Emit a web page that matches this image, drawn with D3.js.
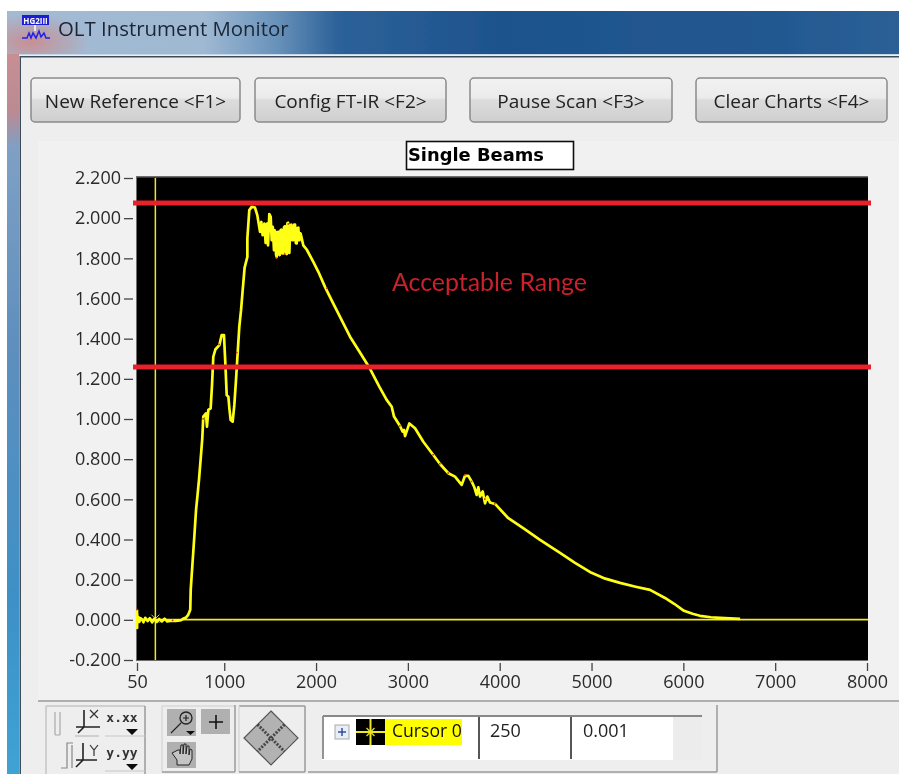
<!DOCTYPE html>
<html><head><meta charset="utf-8">
<script src="https://cdn.jsdelivr.net/npm/d3@7"></script>
<style>
html,body{margin:0;padding:0;background:#fff;overflow:hidden}
svg{display:block}
text{font-family:"Open Sans","Noto Sans",sans-serif;fill:#222}
</style></head><body>
<svg id="c" width="899" height="774"></svg>
<script>
const windowTitle = "OLT Instrument Monitor";
const buttonLabels = ["New Reference <F1>","Config FT-IR <F2>","Pause Scan <F3>","Clear Charts <F4>"];
const chartTitle = "Single Beams";
const rangeLabel = "Acceptable Range";
const limitValues = [2.075, 1.259];
const xTicks = [50,1000,2000,3000,4000,5000,6000,7000,8000];
const yTicks = [-0.2,0,0.2,0.4,0.6,0.8,1.0,1.2,1.4,1.6,1.8,2.0,2.2];
const cursorX = 250;
const cursorY = 0.001;
const cursorName = "Cursor 0";

const wavenumber = [50,51,52,55,60,68,76,90,105,120,140,165,190,215,240,265,290,320,350,380,410,440,470,500,530,551,585,608,630,635,657,675,693,710,725,745,761,772,801,812,827,852,867,881,903,947,972,997,1012,1027,1045,1056,1070,1092,1110,1128,1146,1164,1183,1201,1222,1252,1252,1273,1299,1335,1360,1390,1404,1418,1437,1451,1466,1477,1491,1506,1517,1528,1542,1549,1557,1564,1571,1580,1589,1596,1604,1613,1622,1631,1640,1651,1662,1671,1680,1688,1695,1702,1709,1720,1731,1742,1753,1762,1771,1780,1789,1798,1807,1813,1818,1825,1832,1861,1898,1970,2025,2097,2188,2279,2370,2480,2588,2690,2769,2824,2849,2914,2943,2958,2969,3016,3078,3168,3277,3350,3441,3513,3586,3622,3659,3695,3724,3749,3767,3786,3815,3840,3865,3894,3949,4094,4260,4439,4657,4820,5000,5150,5310,5480,5637,5800,5900,6007,6100,6181,6300,6400,6618];
const intensity = [0.05,-0.04,0.03,0.01,-0.012,0.012,-0.01,0.008,0.002,-0.012,0.01,-0.006,0.008,-0.012,0.006,-0.01,0.004,-0.008,0.006,-0.008,-0.006,-0.004,-0.006,-0.004,-0.002,0.005,0.012,0.025,0.05,0.149,0.299,0.42,0.547,0.625,0.697,0.81,0.904,1.012,1.028,0.962,1.045,1.053,1.169,1.31,1.346,1.368,1.418,1.418,1.277,1.119,1.111,1.053,0.995,0.987,1.07,1.194,1.327,1.459,1.542,1.642,1.754,1.807,1.899,2.04,2.056,2.053,2.015,1.932,1.981,1.915,1.973,1.877,1.973,1.865,2.02,2.006,1.89,1.957,1.841,1.94,1.932,1.82,1.807,1.93,1.932,1.82,1.816,1.94,1.943,1.825,1.824,1.955,1.96,1.825,1.821,1.975,1.977,1.83,1.827,1.965,1.968,1.89,1.89,1.968,1.968,1.875,1.874,1.95,1.953,1.89,1.89,1.925,1.923,1.865,1.844,1.782,1.733,1.658,1.575,1.492,1.41,1.33,1.25,1.16,1.095,1.061,1.012,0.965,0.937,0.945,0.915,0.978,0.954,0.887,0.821,0.776,0.73,0.713,0.672,0.717,0.717,0.688,0.66,0.622,0.66,0.614,0.639,0.58,0.614,0.584,0.577,0.506,0.455,0.398,0.333,0.284,0.234,0.205,0.184,0.165,0.149,0.109,0.08,0.045,0.03,0.02,0.013,0.01,0.005];
const speckX = [52,440,772,947,1140,1570,1660,1700,2120,2914,3277,3350,3441,3622,3695,3840,3949];
const speckY = [0.05,-0.004,1.0,1.37,1.33,1.80,1.82,1.97,1.65,0.965,0.821,0.776,0.73,0.72,0.688,0.6,0.577];

const svg = d3.select("#c");
const defs = svg.append("defs");
function grad(id,stops,x2,y2){
  const g=defs.append("linearGradient").attr("id",id).attr("x1",0).attr("y1",0).attr("x2",x2).attr("y2",y2);
  stops.forEach(s=>g.append("stop").attr("offset",s[0]).attr("stop-color",s[1]));
}
grad("bar",[[0,"#a3bad2"],[0.22,"#9fb9d3"],[0.3,"#6a93bb"],[0.37,"#2d6299"],[0.55,"#1e538d"],[0.85,"#225890"],[1,"#2b6096"]],1,0);
grad("frame",[[0,"#c78f95"],[0.08,"#bb8a92"],[0.13,"#7fa0c4"],[0.4,"#5f8fbd"],[0.75,"#3e90c6"],[1,"#3fa2d4"]],0,1);
grad("btn",[[0,"#f2f2f2"],[0.45,"#ebebeb"],[0.5,"#dcdcdc"],[1,"#cfcfcf"]],0,1);
const rg=defs.append("radialGradient").attr("id","pink");
rg.append("stop").attr("offset",0).attr("stop-color","#c98d90").attr("stop-opacity",.95);
rg.append("stop").attr("offset",1).attr("stop-color","#c98d90").attr("stop-opacity",0);
const soft=defs.append("filter").attr("id","soft").attr("x","-2%").attr("y","-2%").attr("width","104%").attr("height","104%");
soft.append("feGaussianBlur").attr("stdDeviation",0.45);

const root = svg.append("g").attr("filter","url(#soft)");
// window frame
root.append("rect").attr("x",7).attr("y",11).attr("width",892).attr("height",46).attr("fill","url(#bar)");
root.append("rect").attr("x",7).attr("y",54).attr("width",13).attr("height",720).attr("fill","url(#frame)");
root.append("ellipse").attr("cx",30).attr("cy",42).attr("rx",60).attr("ry",28).attr("fill","url(#pink)");
root.append("rect").attr("x",19).attr("y",55).attr("width",880).attr("height",719).attr("fill","#eeeeee");
root.append("rect").attr("x",19).attr("y",54).attr("width",880).attr("height",1).attr("fill","#c6d6e4");
root.append("rect").attr("x",20).attr("y",56).attr("width",879).attr("height",1.5).attr("fill","#3d4b5a");
root.append("rect").attr("x",19.5).attr("y",56).attr("width",1.5).attr("height",718).attr("fill","#3d4b5a");
root.append("rect").attr("x",0).attr("y",0).attr("width",7).attr("height",774).attr("fill","#fff");

// icon
const ic=root.append("g");
ic.append("rect").attr("x",22).attr("y",15).attr("width",27).attr("height",10).attr("fill","#1a1ad0");
ic.append("text").attr("x",35.5).attr("y",23.5).attr("text-anchor","middle").style("font-size","8px").style("font-weight",700).style("fill","#fff").text("HG2III");
ic.append("path").attr("d","M22 38 H27 L29 33 L31 38 L33 33 L36 38 L39 31 L41 37 L44 33 L46 38 H50").attr("fill","none").attr("stroke","#2020e8").attr("stroke-width",1.5);
ic.append("path").attr("d","M35 25 V31").attr("stroke","#fff").attr("stroke-width",1.5);

root.append("text").attr("x",58).attr("y",36).style("font-size","20.4px").style("fill","#1a2536").text(windowTitle);

// chart panel
root.append("rect").attr("x",38).attr("y",141).attr("width",861).attr("height",559).attr("fill","#f1f1f1");

// buttons
const btnX=[31,255,470,696], btnW=[209,191,202,191];
buttonLabels.forEach((t,i)=>{
  root.append("rect").attr("x",btnX[i]).attr("y",78).attr("width",btnW[i]).attr("height",44).attr("rx",4)
    .attr("fill","url(#btn)").attr("stroke","#8a8a8a").attr("stroke-width",1.5);
  root.append("text").attr("x",btnX[i]+btnW[i]/2).attr("y",107.5).attr("text-anchor","middle").style("font-size","19px").text(t);
});

// title box
root.append("rect").attr("x",406.5).attr("y",141.5).attr("width",167).attr("height",28).attr("fill","#fff").attr("stroke","#111").attr("stroke-width",1.6);
root.append("text").attr("x",408).attr("y",161).style("font-size","18px").style("font-weight",700).style("font-family","'DejaVu Sans'").style("fill","#000").attr("textLength",136).attr("lengthAdjust","spacingAndGlyphs").text(chartTitle);

// plot
const xScale=d3.scaleLinear().domain([50,8000]).range([137,867]);
const yScale=d3.scaleLinear().domain([-0.2,2.2]).range([660,178]);
root.append("rect").attr("x",136).attr("y",176).attr("width",732).attr("height",485).attr("fill","#6e6e6e");
root.append("rect").attr("x",137).attr("y",177.5).attr("width",731).attr("height",482.5).attr("fill","#000");

const xAxis=d3.axisBottom(xScale).tickValues(xTicks).tickFormat(d3.format("d")).tickSize(8).tickSizeOuter(0).tickPadding(3);
const yAxis=d3.axisLeft(yScale).tickValues(yTicks).tickFormat(d=>d3.format(".3f")(d).replace("\u2212","-")).tickSize(9).tickSizeOuter(0).tickPadding(3);
const gx=root.append("g").attr("transform","translate(0,663)").call(xAxis);
const gy=root.append("g").attr("transform","translate(133,0)").call(yAxis);
[gx,gy].forEach(g=>{
  g.select(".domain").remove();
  g.selectAll("line").attr("stroke","#444").attr("stroke-width",1.3);
  g.selectAll("text").style("font-size","18px").style("fill","#2a2a2a");
});
gx.selectAll("text").attr("y",12).attr("dy","0.71em");

// cursor
root.append("line").attr("x1",xScale(cursorX)).attr("x2",xScale(cursorX)).attr("y1",178).attr("y2",660).attr("stroke","#f0e820").attr("stroke-width",1.5);
root.append("line").attr("x1",137).attr("x2",868).attr("y1",yScale(cursorY)).attr("y2",yScale(cursorY)).attr("stroke","#f0e820").attr("stroke-width",1.6);
root.append("path").attr("transform",`translate(${xScale(cursorX)},${yScale(cursorY)-1})`).attr("d","M-4 -4 L4 4 M-4 4 L4 -4").attr("stroke","#d8d020").attr("stroke-width",1);

// trace
const line=d3.line().x(d=>xScale(d[0])).y(d=>yScale(d[1]));
root.append("path").datum(d3.zip(wavenumber,intensity)).attr("d",line).attr("fill","none").attr("stroke","#ffff14").attr("stroke-width",2.7).attr("stroke-linejoin","round");
root.selectAll("rect.speck").data(d3.zip(speckX,speckY)).join("rect").attr("class","speck")
  .attr("x",d=>xScale(d[0])-1).attr("y",d=>yScale(d[1])-1).attr("width",1.6).attr("height",1.6).attr("fill","#e03018");

// limits
limitValues.forEach(v=>{
  root.append("line").attr("x1",133).attr("x2",871).attr("y1",yScale(v)).attr("y2",yScale(v)).attr("stroke","#e8202c").attr("stroke-width",5);
});
root.append("text").attr("x",392).attr("y",291).style("font-family","Lato,'Open Sans',sans-serif").style("font-size","24.9px").style("fill","#c8202c").text(rangeLabel);

// lower separator and palette
const sep="#9a9a9a";
function ln(x1,y1,x2,y2,c,w){root.append("line").attr("x1",x1).attr("y1",y1).attr("x2",x2).attr("y2",y2).attr("stroke",c||sep).attr("stroke-width",w||1.5);}
ln(38,701,899,701);
ln(46,706,145,706,"#c4c4c4");ln(46,706,46,774,"#c4c4c4");ln(145,706,145,774,sep);
ln(162,706,235,706,"#d8d8d8");ln(162,706,162,772,"#d8d8d8");ln(235,705,235,772,sep);ln(162,772,235,772,sep);
ln(239,706,305,706,sep);ln(239,706,239,772,"#d8d8d8");ln(305,706,305,772,sep);ln(239,772,305,772,sep);
ln(308,772,717,772);ln(717,705,717,772);

// scale-legend glyphs
const g1=root.append("g").attr("fill","none").attr("stroke","#555").attr("stroke-width",1.2);
g1.append("path").attr("d","M55 712 V735 M60 712 V735 M55 735 H60").attr("stroke","#aaa");
g1.append("path").attr("d","M84 710 V727 H76 M78 733 L84 727 H100").attr("stroke","#222").attr("stroke-width",1.6);
g1.append("path").attr("d","M90 710 L98 718 M98 710 L90 718").attr("stroke","#333");
g1.append("path").attr("d","M75 736 H99").attr("stroke","#bbb");
g1.append("path").attr("d","M61 768 H67 V743 H73 M67 768 V745 M72 768 V745").attr("stroke","#888");
g1.append("path").attr("d","M83 743 V760 H76 M76 767 L83 760 H97").attr("stroke","#222").attr("stroke-width",1.6);
g1.append("path").attr("d","M90 745 L94 750 L98 745 M94 750 V756").attr("stroke","#333");
root.append("text").attr("x",122).attr("y",722).attr("text-anchor","middle").style("font-size","13px").style("font-weight",700).style("font-family","'DejaVu Sans Mono'").style("fill","#333").text("x.xx");
root.append("text").attr("x",122).attr("y",757).attr("text-anchor","middle").style("font-size","13px").style("font-weight",700).style("font-family","'DejaVu Sans Mono'").style("fill","#333").text("y.yy");
ln(105,736,145,736,"#c8c8c8",1);ln(105,771,145,771,"#c8c8c8",1);
root.append("path").attr("d","M126 729 h12 l-6 6 z M126 764 h12 l-6 6 z").attr("fill","#111");

// zoom / pan tools
root.append("rect").attr("x",167).attr("y",709).attr("width",29).attr("height",27).attr("fill","#b0b0b0");
root.append("rect").attr("x",201).attr("y",709).attr("width",29).attr("height",25).attr("fill","#b0b0b0");
root.append("rect").attr("x",167).attr("y",742).attr("width",29).attr("height",26).attr("fill","#b0b0b0");
root.append("circle").attr("cx",186).attr("cy",718).attr("r",6).attr("fill","none").attr("stroke","#222").attr("stroke-width",1.3);
root.append("path").attr("d","M183 718 h6 M186 715 v6 M181 723 L171 733").attr("stroke","#222").attr("stroke-width",1.2).attr("fill","none");
root.append("path").attr("d","M186 731 h9 l-4.5 4 z").attr("fill","#111");
root.append("path").attr("d","M209 722 h14 M216 715 v14").attr("stroke","#111").attr("stroke-width",1.6);
root.append("path").attr("d","M172 753 l5 7 v5 h12 l3 -6 v-9 l-2 -1 l-1 6 v-9 h-2 l-1 8 v-10 h-2 l-1 10 v-9 h-2 l-1 9 v-4 h-2 z").attr("fill","#c4c4c4").attr("stroke","#222").attr("stroke-width",1);

// navigator diamond
root.append("path").attr("d","M271 711 L298 738 L271 765 L244 738 Z").attr("fill","#b2b2b2").attr("stroke","#555").attr("stroke-width",1.2);
root.append("path").attr("d","M257.5 724.5 L284.5 751.5 M284.5 724.5 L257.5 751.5").attr("stroke","#444").attr("stroke-width",3).attr("stroke-dasharray","2 1.4");

// cursor legend
root.append("rect").attr("x",322).attr("y",716).attr("width",380).attr("height",44).attr("fill","#fff");
ln(323,716,702,716,"#888",1.8);ln(323,716,323,759,"#888",1.8);
root.append("rect").attr("x",673).attr("y",717).attr("width",29).attr("height",43).attr("fill","#ececec");
root.append("rect").attr("x",335).attr("y",725).attr("width",14).attr("height",14).attr("fill","#e8edf6").attr("stroke","#aaa");
root.append("path").attr("d","M338 732 h8 M342 728 v8").attr("stroke","#3050a0").attr("stroke-width",1.5);
root.append("rect").attr("x",356).attr("y",719).attr("width",29).attr("height",26).attr("fill","#000");
root.append("path").attr("d","M356 732 h29 M370.5 719 v26").attr("stroke","#f0e820").attr("stroke-width",2);
root.append("path").attr("d","M366.5 728 l8 8 M374.5 728 l-8 8").attr("stroke","#e8e020").attr("stroke-width",1.2);
root.append("rect").attr("x",385).attr("y",719).attr("width",77).attr("height",26).attr("fill","#ffff00");
root.append("text").attr("x",392).attr("y",737).style("font-size","17.6px").style("fill","#111").text(cursorName);
ln(479,717,479,759,"#444",1.8);ln(571,717,571,759,"#444",1.8);
root.append("text").attr("x",490).attr("y",737).style("font-size","18px").style("fill","#222").text(String(cursorX));
root.append("text").attr("x",583).attr("y",737).style("font-size","18px").style("fill","#222").text(d3.format(".3f")(cursorY));
</script>
</body></html>
